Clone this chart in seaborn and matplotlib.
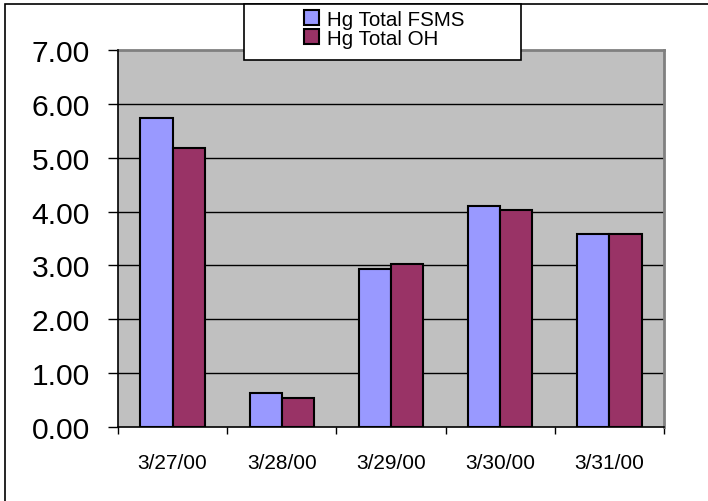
import matplotlib
matplotlib.use("Agg")
import matplotlib.pyplot as plt
import seaborn as sns
import pandas as pd
import numpy as np
from matplotlib.patches import Rectangle

dates = ["3/27/00", "3/28/00", "3/29/00", "3/30/00", "3/31/00"]
fsms = [5.73, 0.63, 2.94, 4.11, 3.58]
oh = [5.18, 0.54, 3.02, 4.03, 3.58]
series_names = ["Hg Total FSMS", "Hg Total OH"]
y_ticks = [0, 1, 2, 3, 4, 5, 6, 7]

df = pd.DataFrame({
    "date": dates * 2,
    "value": fsms + oh,
    "series": [series_names[0]] * len(dates) + [series_names[1]] * len(dates),
})

sns.set_style("white")
plt.rcParams["font.family"] = ["Liberation Sans", "DejaVu Sans"]
plt.rcParams["text.color"] = "black"
plt.rcParams["xtick.color"] = "black"
plt.rcParams["ytick.color"] = "black"
plt.rcParams["axes.labelcolor"] = "black"

fig = plt.figure(figsize=(7.08, 5.02), dpi=100)
ax = fig.add_axes([118 / 708, 74 / 502, (664 - 118) / 708, (428 - 51) / 502])
ax.set_facecolor("#C0C0C0")

sns.barplot(data=df, x="date", y="value", hue="series", order=dates,
            hue_order=series_names, palette=["#9999FF", "#993366"],
            saturation=1, width=0.59, gap=0, edgecolor="black", linewidth=1.5,
            errorbar=None, ax=ax, legend=True, zorder=3)

ax.set_xlim(-0.5, len(dates) - 0.5)
ax.set_ylim(0, 7)
ax.set_yticks(y_ticks)
ax.set_yticklabels([f"{v:.2f}" for v in y_ticks])
ax.set_xlabel("")
ax.set_ylabel("")

for v in y_ticks[1:-1]:
    ax.axhline(v, color="black", lw=1.0, zorder=1)

ax.tick_params(axis="y", direction="out", length=7.2, width=1, color="black",
               labelcolor="black", labelsize=21.6, pad=13, left=True)
ax.set_xticks(np.arange(len(dates)))
ax.set_xticklabels(dates)
ax.tick_params(axis="x", which="major", length=0, labelsize=15,
               labelcolor="black", pad=19)
ax.set_xticks(np.arange(-0.5, len(dates)), minor=True)
ax.tick_params(axis="x", which="minor", direction="out", length=5, width=1,
               color="black", bottom=True)

for side in ["left", "bottom"]:
    ax.spines[side].set_color("black")
    ax.spines[side].set_linewidth(1.2)
    ax.spines[side].set_zorder(5)
for side in ["top", "right"]:
    ax.spines[side].set_color("#808080")
    ax.spines[side].set_linewidth(2)

handles, labels = ax.get_legend_handles_labels()
ax.get_legend().remove()

# outer chart border
fig.patches.append(Rectangle((4.5 / 708, -0.05), 1.2, (502 - 5) / 502 + 0.05,
                             transform=fig.transFigure, fill=False,
                             edgecolor="black", lw=1.2, zorder=0))
# legend box
fig.patches.append(Rectangle((244 / 708, (502 - 61) / 502), (521 - 244) / 708,
                             (61 - 5) / 502, transform=fig.transFigure,
                             facecolor="white", edgecolor="black", lw=1.2,
                             zorder=10))
leg = fig.legend(handles, labels, loc="upper left",
                 bbox_to_anchor=(304 / 708, (502 - 11) / 502),
                 frameon=False, fontsize=14.8, handlelength=0.75,
                 handleheight=0.75, handletextpad=0.35, labelspacing=0.0,
                 borderpad=0, borderaxespad=0)
leg.set_zorder(11)
for t in leg.get_texts():
    t.set_color("black")

fig.savefig("out.png", dpi=100)
